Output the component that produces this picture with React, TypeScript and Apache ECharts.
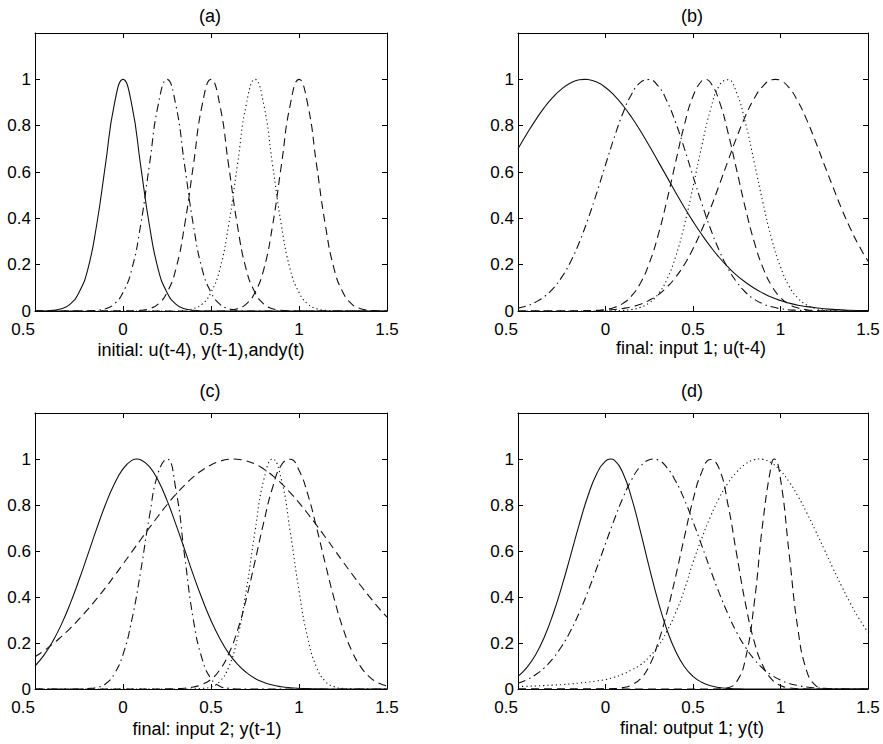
import React, { useEffect, useRef } from 'react';
import * as echarts from 'echarts';

// shared sample positions along the x axis
const X = [-0.5, -0.45, -0.4, -0.35, -0.3, -0.25, -0.2, -0.15, -0.1, -0.05,
  0, 0.05, 0.1, 0.15, 0.2, 0.25, 0.3, 0.35, 0.4, 0.45,
  0.5, 0.55, 0.6, 0.65, 0.7, 0.75, 0.8, 0.85, 0.9, 0.95,
  1, 1.05, 1.1, 1.15, 1.2, 1.25, 1.3, 1.35, 1.4, 1.45, 1.5];

const xTickValues = [-0.5, 0, 0.5, 1, 1.5];
const xTickLabels = ['0.5', '0', '0.5', '1', '1.5'];
const yTickLabels = ['0', '0.2', '0.4', '0.6', '0.8', '1', ''];
const panelTitles = ['(a)', '(b)', '(c)', '(d)'];
const panelXLabels = [
  'initial: u(t-4), y(t-1),andy(t)',
  'final: input 1; u(t-4)',
  'final: input 2; y(t-1)',
  'final: output 1; y(t)',
];

// (a) initial membership functions
const aSolid = [0, 0, 0.003, 0.01, 0.03, 0.08, 0.18, 0.37, 0.63, 0.89,
  1, 0.89, 0.63, 0.37, 0.18, 0.08, 0.03, 0.01, 0.003, 0,
  0, 0, 0, 0, 0, 0, 0, 0, 0, 0,
  0, 0, 0, 0, 0, 0, 0, 0, 0, 0, 0];
const aDashDot = [0, 0, 0, 0, 0, 0, 0, 0.003, 0.01, 0.03,
  0.08, 0.18, 0.37, 0.63, 0.89, 1, 0.89, 0.63, 0.37, 0.18,
  0.08, 0.03, 0.01, 0.003, 0, 0, 0, 0, 0, 0,
  0, 0, 0, 0, 0, 0, 0, 0, 0, 0, 0];
const aDashed = [0, 0, 0, 0, 0, 0, 0, 0, 0, 0,
  0, 0, 0.003, 0.01, 0.03, 0.08, 0.18, 0.37, 0.63, 0.89,
  1, 0.89, 0.63, 0.37, 0.18, 0.08, 0.03, 0.01, 0.003, 0,
  0, 0, 0, 0, 0, 0, 0, 0, 0, 0, 0];
const aDotted = [0, 0, 0, 0, 0, 0, 0, 0, 0, 0,
  0, 0, 0, 0, 0, 0, 0, 0.003, 0.01, 0.03,
  0.08, 0.18, 0.37, 0.63, 0.89, 1, 0.89, 0.63, 0.37, 0.18,
  0.08, 0.03, 0.01, 0.003, 0, 0, 0, 0, 0, 0, 0];
const aDashed2 = [0, 0, 0, 0, 0, 0, 0, 0, 0, 0,
  0, 0, 0, 0, 0, 0, 0, 0, 0, 0,
  0, 0, 0.003, 0.01, 0.03, 0.08, 0.18, 0.37, 0.63, 0.89,
  1, 0.89, 0.63, 0.37, 0.18, 0.08, 0.03, 0.01, 0.003, 0, 0];
const peaksA = [0, 0.25, 0.5, 0.75, 1];

// (b) final: input 1
const bSolid = [0.7, 0.764, 0.824, 0.878, 0.923, 0.959, 0.984, 0.998, 0.999, 0.988,
  0.965, 0.931, 0.887, 0.835, 0.777, 0.713, 0.647, 0.58, 0.513, 0.448,
  0.387, 0.33, 0.278, 0.231, 0.19, 0.154, 0.124, 0.098, 0.077, 0.059,
  0.045, 0.034, 0.025, 0.019, 0.014, 0.01, 0.007, 0.005, 0.003, 0.002, 0.0015];
const bDashDot = [0.0125, 0.022, 0.038, 0.062, 0.097, 0.146, 0.212, 0.296, 0.397, 0.51,
  0.631, 0.749, 0.855, 0.937, 0.987, 0.999, 0.972, 0.908, 0.815, 0.703,
  0.582, 0.464, 0.355, 0.261, 0.184, 0.125, 0.081, 0.051, 0.031, 0.018,
  0.01, 0.005, 0.003, 0.001, 0, 0, 0, 0, 0, 0, 0];
const bDashed = [0, 0, 0, 0, 0, 0, 0, 0, 0.001, 0.0027,
  0.0066, 0.0154, 0.033, 0.066, 0.121, 0.206, 0.325, 0.474, 0.64, 0.801,
  0.927, 0.994, 0.986, 0.906, 0.77, 0.607, 0.442, 0.298, 0.186, 0.108,
  0.058, 0.029, 0.013, 0.0056, 0.002, 0.0008, 0, 0, 0, 0, 0];
const bDotted = [0, 0, 0, 0, 0, 0, 0, 0, 0, 0,
  0, 0.0008, 0.0024, 0.0064, 0.0157, 0.035, 0.072, 0.135, 0.233, 0.369,
  0.535, 0.712, 0.869, 0.973, 0.998, 0.94, 0.811, 0.642, 0.466, 0.31,
  0.19, 0.106, 0.055, 0.026, 0.011, 0.0044, 0.0016, 0, 0, 0, 0];
const bDashed2 = [0, 0, 0, 0, 0, 0, 0, 0, 0.001, 0.002,
  0.0037, 0.0065, 0.011, 0.018, 0.029, 0.046, 0.069, 0.102, 0.145, 0.2,
  0.269, 0.35, 0.443, 0.544, 0.648, 0.75, 0.842, 0.918, 0.971, 0.998,
  0.995, 0.963, 0.904, 0.825, 0.732, 0.632, 0.535, 0.44, 0.355, 0.28, 0.215];
const peaksB = [-0.12, 0.24, 0.57, 0.69, 0.97];

// (c) final: input 2
const cSolid = [0.1, 0.146, 0.206, 0.281, 0.371, 0.474, 0.584, 0.696, 0.801, 0.89,
  0.957, 0.994, 0.997, 0.967, 0.906, 0.82, 0.717, 0.607, 0.495, 0.391,
  0.298, 0.22, 0.156, 0.108, 0.072, 0.046, 0.029, 0.017, 0.01, 0.0056,
  0.003, 0.0016, 0.001, 0, 0, 0, 0, 0, 0, 0, 0];
const cDashDot = [0, 0, 0, 0, 0, 0, 0.002, 0.007, 0.022, 0.065,
  0.15, 0.3, 0.51, 0.75, 0.94, 1, 0.87, 0.58, 0.3, 0.13,
  0.045, 0.012, 0.003, 0, 0, 0, 0, 0, 0, 0,
  0, 0, 0, 0, 0, 0, 0, 0, 0, 0, 0];
const cDashed = [0.14, 0.166, 0.195, 0.228, 0.264, 0.304, 0.346, 0.392, 0.44, 0.491,
  0.543, 0.596, 0.649, 0.701, 0.752, 0.801, 0.846, 0.886, 0.922, 0.951,
  0.974, 0.99, 0.999, 0.999, 0.992, 0.978, 0.956, 0.928, 0.894, 0.854,
  0.81, 0.762, 0.712, 0.66, 0.607, 0.553, 0.501, 0.45, 0.402, 0.355, 0.312];
const cDotted = [0, 0, 0, 0, 0, 0, 0, 0, 0, 0,
  0, 0, 0, 0, 0, 0, 0, 0, 0.0005, 0.0024,
  0.0097, 0.033, 0.094, 0.22, 0.427, 0.685, 0.91, 1, 0.91, 0.685,
  0.427, 0.22, 0.094, 0.033, 0.0097, 0.0024, 0.0005, 0, 0, 0, 0];
const cDashed2 = [0, 0, 0, 0, 0, 0, 0, 0, 0, 0,
  0, 0, 0, 0, 0, 0.0004, 0.0012, 0.0034, 0.0086, 0.02,
  0.042, 0.083, 0.152, 0.253, 0.391, 0.555, 0.726, 0.876, 0.974, 0.999,
  0.951, 0.846, 0.701, 0.543, 0.392, 0.264, 0.166, 0.0975, 0.053, 0.027, 0.013];
const peaksC = [0.08, 0.245, 0.63, 0.85, 0.94];

// (d) final: output 1
const dSolid = [0.055, 0.093, 0.148, 0.225, 0.325, 0.445, 0.579, 0.716, 0.84, 0.936,
  0.991, 0.995, 0.938, 0.828, 0.684, 0.529, 0.383, 0.26, 0.165, 0.098,
  0.055, 0.029, 0.014, 0.0064, 0.0027, 0.001, 0, 0, 0, 0,
  0, 0, 0, 0, 0, 0, 0, 0, 0, 0, 0];
const dDashDot = [0.025, 0.04, 0.062, 0.092, 0.133, 0.186, 0.252, 0.332, 0.425, 0.526,
  0.632, 0.736, 0.832, 0.911, 0.968, 0.997, 0.996, 0.964, 0.905, 0.825,
  0.728, 0.624, 0.518, 0.417, 0.326, 0.246, 0.181, 0.129, 0.089, 0.06,
  0.039, 0.024, 0.015, 0.0088, 0.005, 0.0028, 0.0015, 0.0008, 0, 0, 0];
const dDashed = [0, 0, 0, 0, 0, 0, 0, 0, 0, 0,
  0.001, 0.002, 0.006, 0.018, 0.045, 0.1, 0.2, 0.33, 0.487, 0.658,
  0.821, 0.943, 0.998, 0.957, 0.801, 0.584, 0.371, 0.206, 0.0996, 0.042,
  0.0154, 0.005, 0.0014, 0.0003, 0, 0, 0, 0, 0, 0, 0];
const dDotted = [0.011, 0.012, 0.013, 0.015, 0.017, 0.019, 0.022, 0.026, 0.03, 0.035,
  0.041, 0.051, 0.065, 0.083, 0.105, 0.14, 0.185, 0.25, 0.33, 0.43,
  0.55, 0.655, 0.75, 0.83, 0.895, 0.943, 0.978, 0.997, 0.9985, 0.982,
  0.949, 0.9, 0.838, 0.766, 0.688, 0.607, 0.525, 0.446, 0.372, 0.305, 0.246];
const dDashed2 = [0, 0, 0, 0, 0, 0, 0, 0, 0, 0,
  0, 0, 0, 0, 0, 0, 0, 0, 0, 0,
  0, 0, 0, 0.0006, 0.0054, 0.032, 0.132, 0.374, 0.73, 0.983,
  0.913, 0.584, 0.258, 0.078, 0.016, 0.0024, 0, 0, 0, 0, 0];
const peaksD = [0.03, 0.273, 0.61, 0.88, 0.965];

const panelCurves = [
  [aSolid, aDashDot, aDashed, aDotted, aDashed2],
  [bSolid, bDashDot, bDashed, bDotted, bDashed2],
  [cSolid, cDashDot, cDashed, cDotted, cDashed2],
  [dSolid, dDashDot, dDashed, dDotted, dDashed2],
];
const panelPeaks = [peaksA, peaksB, peaksC, peaksD];

const lineTypes: any[] = ['solid', [8, 4, 1.5, 4], [8, 5], [1.2, 3], [8, 5]];

const grids = [
  { left: 35, top: 33, width: 352, height: 278 },
  { left: 518, top: 33, width: 350, height: 278 },
  { left: 35, top: 413, width: 352, height: 276 },
  { left: 518, top: 413, width: 350, height: 276 },
];
const titlePos = [[210, 16], [692, 16], [210, 391], [692, 391]];
const xLabelPos = [[201, 350], [691, 348], [207, 729], [692, 728]];

const FONT = 'Liberation Sans, Arial, Helvetica, sans-serif';

function buildData(ys: number[], peak: number) {
  const pts: number[][] = X.map((x, i) => [x, ys[i]]);
  let nearest = Infinity;
  for (const x of X) nearest = Math.min(nearest, Math.abs(x - peak));
  if (nearest > 0.012) {
    pts.push([peak, 1]);
    pts.sort((p, q) => p[0] - q[0]);
  }
  return pts;
}

function buildOption() {
  const xAxis: any[] = [];
  const yAxis: any[] = [];
  const series: any[] = [];
  const graphic: any[] = [];
  const tick = { show: true, inside: true, length: 5, lineStyle: { color: '#000', width: 1 } };
  const line = { show: true, onZero: false, lineStyle: { color: '#000', width: 1 } };

  grids.forEach((g, gi) => {
    xAxis.push({
      type: 'value', gridIndex: gi, position: 'bottom', min: -0.5, max: 1.5, interval: 0.5,
      axisLine: line, axisTick: tick, splitLine: { show: false },
      axisLabel: {
        show: true, margin: 11, color: '#000', fontSize: 17, lineHeight: 14, fontFamily: FONT,
        showMinLabel: true, showMaxLabel: true, alignMinLabel: 'right',
        formatter: (v: number) => {
          let k = 0;
          xTickValues.forEach((t, i) => { if (Math.abs(t - v) < 1e-6) k = i; });
          return xTickLabels[k];
        },
      },
    });
    xAxis.push({
      type: 'value', gridIndex: gi, position: 'top', min: -0.5, max: 1.5, interval: 0.5,
      axisLine: line, axisTick: tick, splitLine: { show: false }, axisLabel: { show: false },
    });
    yAxis.push({
      type: 'value', gridIndex: gi, position: 'left', min: 0, max: 1.2, interval: 0.2,
      axisLine: line, axisTick: tick, splitLine: { show: false },
      axisLabel: {
        show: true, margin: 4, color: '#000', fontSize: 17, lineHeight: 14, fontFamily: FONT,
        showMinLabel: true, showMaxLabel: true,
        formatter: (v: number) => yTickLabels[Math.round(v / 0.2)] ?? '',
      },
    });
    yAxis.push({
      type: 'value', gridIndex: gi, position: 'right', min: 0, max: 1.2, interval: 0.2,
      axisLine: line, axisTick: tick, splitLine: { show: false }, axisLabel: { show: false },
    });

    panelCurves[gi].forEach((ys, ci) => {
      series.push({
        type: 'line', xAxisIndex: gi * 2, yAxisIndex: gi * 2,
        data: buildData(ys, panelPeaks[gi][ci]),
        showSymbol: false, symbol: 'none', smooth: true, silent: true,
        lineStyle: { color: '#111', width: 1.1, type: lineTypes[ci] },
        z: 3,
      });
    });

    graphic.push({
      type: 'text', x: titlePos[gi][0], y: titlePos[gi][1], silent: true,
      style: { text: panelTitles[gi], fill: '#000', font: `18px ${FONT}`, align: 'center', verticalAlign: 'middle' },
    });
    graphic.push({
      type: 'text', x: xLabelPos[gi][0], y: xLabelPos[gi][1], silent: true,
      style: { text: panelXLabels[gi], fill: '#000', font: `18px ${FONT}`, align: 'center', verticalAlign: 'middle' },
    });
  });

  return {
    animation: false,
    backgroundColor: '#fff',
    grid: grids.map((g) => ({ ...g, show: false, containLabel: false, outerBoundsMode: 'none' })),
    xAxis, yAxis, series, graphic,
  };
}

export default function App() {
  const ref = useRef<HTMLDivElement>(null);
  useEffect(() => {
    if (!ref.current) return;
    const chart = echarts.init(ref.current, null, { renderer: 'svg' });
    chart.setOption(buildOption() as any);
    return () => chart.dispose();
  }, []);
  return (
    <div
      ref={ref}
      style={{ position: 'absolute', left: 0, top: 0, width: 883, height: 744, background: '#fff' }}
    />
  );
}
